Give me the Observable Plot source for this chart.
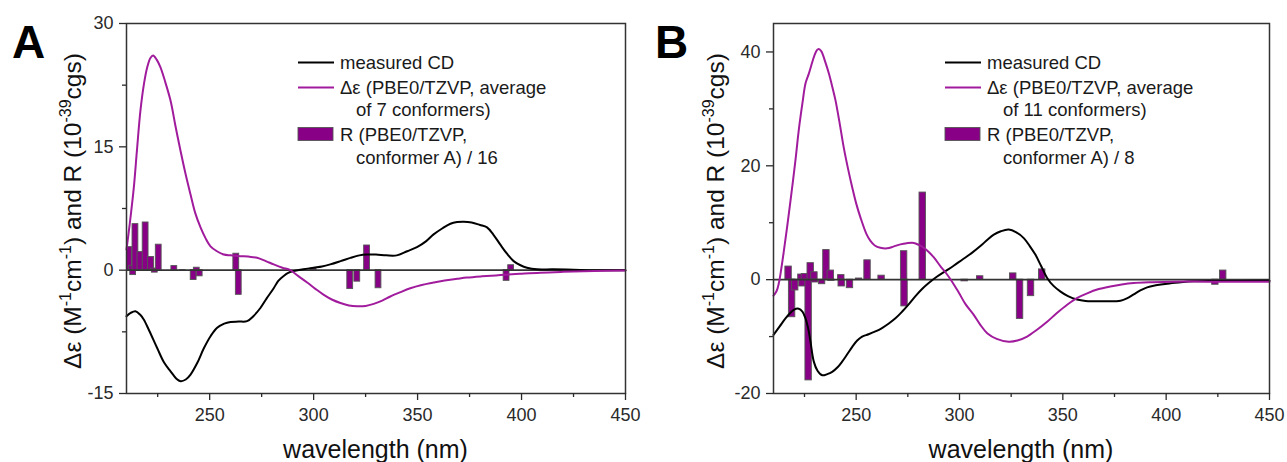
<!DOCTYPE html>
<html>
<head>
<meta charset="utf-8">
<script src="https://cdn.jsdelivr.net/npm/d3@7"></script>
<script src="https://cdn.jsdelivr.net/npm/@observablehq/plot@0.6"></script>
<style>
  html, body { margin: 0; padding: 0; background: #fff; }
  #wrap { display: flex; width: 1287px; height: 462px; overflow: hidden; }
  #wrap svg { display: block; }
</style>
</head>
<body>
<div id="wrap"></div>
<script>
// ---------- Panel A data ----------
const cdA_wl  = [210,212,214.3,216.5,218.3,221,224.8,228,231.2,234,236,238.5,240.8,244,247.2,250.5,253.6,257,260,264,268,271,274.4,277.5,280.8,283,285.6,288,290.4,295,300,304,308,313,317.7,322,325.7,330,335,340,345,349.7,354,357.7,362,365.8,369,372.2,376,380,383.4,386.5,389.8,393,396.2,399.5,402.6,407.4,415,425,435,450];
const cdA_val = [-5.6,-5.2,-5.0,-5.4,-6.0,-7.4,-9.5,-11.2,-12.3,-13.2,-13.5,-13.3,-12.7,-11.3,-9.5,-8.0,-7.0,-6.5,-6.3,-6.25,-6.2,-5.6,-4.6,-3.4,-2.2,-1.3,-0.7,-0.3,-0.1,0.1,0.3,0.45,0.7,1.1,1.5,1.8,1.9,1.9,1.8,1.8,2.3,2.8,3.5,4.35,5.1,5.65,5.85,5.9,5.8,5.5,5.2,4.3,3.1,2.0,1.1,0.6,0.3,0.1,0.1,0.05,0,0];

const calcA_wl  = [210,211.5,213.5,215,216.7,218.5,220,221.5,222.8,224.5,226.3,228.5,231.2,233.5,236,238.5,240.8,243,245.6,248,250.4,253.5,256.8,260,264.8,268.5,272.8,277,280.8,285,288.8,292.5,296.9,301,304.9,309,312.9,317,320.9,325,328.9,333,336.9,341.5,346.5,352,357.7,363,369,373.8,381,389.8,399,409,420,435,450];
const calcA_val = [2.5,5.5,10,14.5,19.4,22.8,24.7,25.8,26.1,25.6,24.7,23.0,20.6,17.6,14.5,11.6,9.2,7.0,5.2,3.9,2.9,2.3,1.9,1.8,1.7,1.65,1.5,1.1,0.7,0.3,0,-0.7,-1.5,-2.3,-3.0,-3.6,-4.0,-4.3,-4.4,-4.35,-4.1,-3.7,-3.2,-2.7,-2.2,-1.8,-1.5,-1.25,-1.05,-0.9,-0.75,-0.6,-0.45,-0.3,-0.2,-0.1,-0.05];

const barA_wl  = [211.3,212.6,213.2,214.3,216.7,219.2,221.8,223,223.6,225.5,233,237,242.3,243.8,245.2,262.8,264,300,317.6,321,325.7,331.2,392.8,395];
const barA_val = [2.8,0.5,-0.6,5.6,2.2,5.8,1.6,0.2,-0.3,3.1,0.5,-0.1,-1.2,0.3,-0.75,2.0,-3.0,0.2,-2.3,-1.4,3.0,-2.2,-1.3,0.6];

// ---------- Panel B data ----------
const cdB_wl  = [210,213,215.8,218,219.8,222.2,224,225.5,226.8,227.9,229.5,231.3,233.6,236,238.4,241,243.2,245.5,248.1,250.5,252.9,256,259.3,262.5,265.8,269,272.3,275.5,278.7,282,285.1,289,293.2,297,301.3,306,310.1,313.5,316.6,320,323.8,327.5,331.1,334,336.7,339.5,342.4,345.5,348.9,352.5,356.9,361,365,371,377.9,381,384.3,387.5,390.8,395,400.5,406,413.3,425,450];
const cdB_val = [-9.7,-8.2,-6.8,-5.9,-5.3,-5.1,-5.6,-6.8,-8.6,-10.9,-14.4,-16.0,-16.8,-16.6,-16.2,-15.4,-14.4,-13.2,-11.8,-10.7,-10.0,-9.6,-9.1,-8.5,-7.7,-6.8,-5.6,-4.3,-2.9,-1.6,-0.6,0.5,1.5,2.4,3.5,4.7,5.9,7.0,7.9,8.5,8.8,8.3,7.3,5.9,4.4,2.4,0.3,-1.1,-2.1,-2.9,-3.5,-3.75,-3.8,-3.8,-3.7,-3.3,-2.6,-1.9,-1.35,-1.0,-0.7,-0.5,-0.3,-0.25,-0.2];

const calcB_wl  = [210,211.5,212.6,213.8,215,216.5,218.2,220.6,222.2,224,225.5,227.1,229,230.5,231.6,233,235,236.8,238.5,240,242,244,246,248.1,250,252.1,255,256.9,259,261.7,265,268,271.4,274.5,277.9,280.3,282.7,285,287.6,290.8,293.2,296.5,299.7,302.9,306.9,310,313.4,318,323.8,328,332.7,337.5,342.4,347,352.1,357,361.8,367,373,378.5,384.3,393,403.6,420,450];
const calcB_val = [-2.8,-2.0,-0.6,2.0,5.0,9.0,13.8,20.9,26.2,31,34.5,36.2,38.5,40.0,40.5,40.2,38.3,36.2,33.8,31.5,27.5,23.2,19.6,16.2,13.4,10.9,8.0,6.8,6.0,5.6,5.5,5.8,6.2,6.4,6.45,6.1,5.6,4.9,3.9,2.35,1.3,-0.4,-2.3,-4.3,-6.2,-7.9,-9.4,-10.4,-10.9,-10.7,-10.0,-8.8,-7.4,-5.9,-4.4,-3.2,-2.4,-1.7,-1.2,-0.85,-0.6,-0.45,-0.35,-0.35,-0.35];

const barB_wl  = [217.3,219,220.5,223.5,224,225.2,227,228,229.8,230,233.5,235.6,237.7,238,242.8,243,247,251.4,255.5,262.3,273.2,273.4,282.2,302.5,310,326,329.3,334.6,340,423.8,427.6];
const barB_val = [2.3,-6.6,-1.9,0.9,-1.2,1.0,-17.7,2.9,1.3,-0.5,-0.8,5.2,1.6,-0.2,0.8,-1.2,-1.5,0.2,3.4,0.7,5.0,-4.7,15.3,-0.3,0.6,1.1,-6.9,-2.9,1.8,-0.9,1.6];

// ---------- Axis ticks & labels ----------
const xMajor = [250,300,350,400,450];
const xMinor = [225,275,325,375,425];
const yMajorA = [-15,0,15,30];
const yMinorA = [-7.5,7.5,22.5];
const yMajorB = [-20,0,20,40];
const yMinorB = [-10,10,30];
const xLabel = "wavelength (nm)";
const legendA = ["measured CD", "Δε (PBE0/TZVP, average", "of 7 conformers)", "R (PBE0/TZVP,", "conformer A) / 16"];
const legendB = ["measured CD", "Δε (PBE0/TZVP, average", "of 11 conformers)", "R (PBE0/TZVP,", "conformer A) / 8"];

const FONT = "Arial, 'Liberation Sans', Helvetica, sans-serif";
const MAGENTA = "#a11b9d";
const BARFILL = "#880085";

function zip(a, b) { return a.map((w, i) => ({w, v: b[i]})); }

function panel(cfg) {
  const bars = zip(cfg.barWl, cfg.barVal);
  const cd = zip(cfg.cdWl, cfg.cdVal);
  const calc = zip(cfg.calcWl, cfg.calcVal);
  const hw = cfg.barHalf;
  const svg = Plot.plot({
    width: cfg.width, height: 462,
    marginLeft: cfg.marginLeft, marginRight: cfg.marginRight, marginTop: 23, marginBottom: 69,
    style: {fontFamily: FONT, fontSize: "18px", color: "#2a2a2a", background: "white", overflow: "visible"},
    x: {domain: [210, 450]},
    y: {domain: cfg.yDomain},
    marks: [
      Plot.rect(bars, {x1: d => d.w - hw, x2: d => d.w + hw, y1: 0, y2: "v", fill: BARFILL, stroke: "#555", strokeWidth: 0.9, clip: true}),
      Plot.ruleY([0], {stroke: "#333", strokeWidth: 1.6}),
      Plot.line(cd, {x: "w", y: "v", stroke: "#000", strokeWidth: 2, curve: "catmull-rom"}),
      Plot.line(calc, {x: "w", y: "v", stroke: MAGENTA, strokeWidth: 2, curve: "catmull-rom"}),
      Plot.frame({stroke: "#333", strokeWidth: 1.5}),
      Plot.axisX({ticks: xMajor, tickSize: 7, tickPadding: 8, tickFormat: d => String(d), label: null, strokeWidth: 1.3}),
      Plot.axisX({ticks: xMinor, tickSize: 4, tickFormat: () => "", label: null, strokeWidth: 1.3}),
      Plot.axisY({ticks: cfg.yMajor, tickSize: 7, tickPadding: 6, tickFormat: d => String(d), label: null, strokeWidth: 1.3}),
      Plot.axisY({ticks: cfg.yMinor, tickSize: 4, tickFormat: () => "", label: null, strokeWidth: 1.3})
    ]
  });
  const s = d3.select(svg);
  const fl = cfg.marginLeft; // frame left
  const fr = cfg.width - cfg.marginRight;
  // panel letter
  s.append("text").attr("x", 12).attr("y", 58).attr("text-anchor", "start").attr("font-family", FONT).attr("font-weight", "bold")
    .attr("font-size", 46).attr("fill", "#000").text(cfg.letter);
  // x label
  s.append("text").attr("x", (fl + fr) / 2).attr("y", 458).attr("text-anchor", "middle")
    .attr("font-family", FONT).attr("font-size", 25).attr("fill", "#111").text(xLabel);
  // y label with superscripts
  const yl = s.append("text").attr("transform", `translate(81,211) rotate(-90)`).attr("text-anchor", "middle")
    .attr("font-family", FONT).attr("font-size", 24.5).attr("fill", "#111");
  const parts = [["Δε (M", 0], ["-1", 1], ["cm", 0], ["-1", 1], [") and R (10", 0], ["-39", 1], ["cgs)", 0]];
  let sup = false;
  parts.forEach(([t, isSup]) => {
    const ts = yl.append("tspan").text(t);
    if (isSup) { ts.attr("font-size", 16).attr("dy", sup ? 0 : -10); sup = true; }
    else { ts.attr("dy", sup ? 10 : 0); sup = false; }
  });
  // legend
  const lx = fl + 172, tx = fl + 214, ix = fl + 230;
  const lg = s.append("g").attr("font-family", FONT).attr("font-size", 18.5).attr("fill", "#1a1a1a").attr("text-anchor", "start");
  lg.append("line").attr("x1", lx).attr("x2", lx + 36).attr("y1", 62.5).attr("y2", 62.5).attr("stroke", "#000").attr("stroke-width", 2);
  lg.append("line").attr("x1", lx).attr("x2", lx + 36).attr("y1", 87.5).attr("y2", 87.5).attr("stroke", MAGENTA).attr("stroke-width", 2);
  lg.append("rect").attr("x", lx).attr("y", 127.5).attr("width", 35).attr("height", 13).attr("fill", BARFILL).attr("stroke", "#555").attr("stroke-width", 0.9);
  const L = cfg.legend;
  lg.append("text").attr("x", tx).attr("y", 68.5).text(L[0]);
  lg.append("text").attr("x", tx).attr("y", 94).text(L[1]);
  lg.append("text").attr("x", ix).attr("y", 116).text(L[2]);
  lg.append("text").attr("x", tx).attr("y", 140.5).text(L[3]);
  lg.append("text").attr("x", ix).attr("y", 164).text(L[4]);
  return svg;
}

const wrap = document.getElementById("wrap");
wrap.appendChild(panel({
  letter: "A", width: 643, marginLeft: 126, marginRight: 18, yDomain: [-15, 30],
  yMajor: yMajorA, yMinor: yMinorA, barHalf: 1.4,
  cdWl: cdA_wl, cdVal: cdA_val, calcWl: calcA_wl, calcVal: calcA_val,
  barWl: barA_wl, barVal: barA_val, legend: legendA
}));
wrap.appendChild(panel({
  letter: "B", width: 644, marginLeft: 130, marginRight: 18, yDomain: [-20, 45],
  yMajor: yMajorB, yMinor: yMinorB, barHalf: 1.55,
  cdWl: cdB_wl, cdVal: cdB_val, calcWl: calcB_wl, calcVal: calcB_val,
  barWl: barB_wl, barVal: barB_val, legend: legendB
}));
</script>
</body>
</html>
